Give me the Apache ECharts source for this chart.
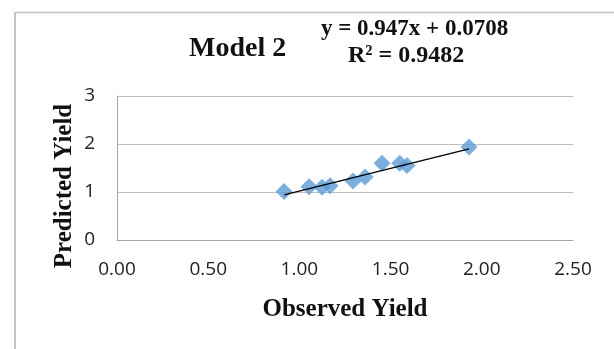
<!DOCTYPE html>
<html><head><meta charset="utf-8">
<script src="https://cdn.jsdelivr.net/npm/echarts@6/dist/echarts.min.js"></script>
<style>html,body{margin:0;padding:0;background:#fff}#c{width:614px;height:349px}</style>
</head><body><div id="c"></div>
<script>
const observed = [0.916, 1.053, 1.124, 1.168, 1.294, 1.36, 1.453, 1.55, 1.59, 1.93];
const predicted = [1.01, 1.11, 1.10, 1.13, 1.23, 1.31, 1.60, 1.60, 1.55, 1.94];
const slope = 0.947, intercept = 0.0708;
const xTicks = [0, 0.5, 1, 1.5, 2, 2.5];
const yTicks = [0, 1, 2, 3];

const pts = observed.map((x, i) => [x, predicted[i]]);
const xmin = Math.min(...observed), xmax = Math.max(...observed);
const trend = [[xmin, slope * xmin + intercept], [xmax, slope * xmax + intercept]];
const serif = '"Liberation Serif", "DejaVu Serif", serif';
const sans = '"Open Sans", "Noto Sans", sans-serif';

const chart = echarts.init(document.getElementById('c'));
chart.setOption({
  animation: false,
  grid: {left: 117, right: 41, top: 96, bottom: 109},
  xAxis: {type: 'value', min: 0, max: 2.5, interval: 0.5,
    name: 'Observed Yield', nameLocation: 'middle', nameGap: 57,
    nameTextStyle: {fontFamily: serif, fontWeight: 'bold', fontSize: 25, color: '#111'},
    axisLine: {show: true, lineStyle: {color: '#a6a6a6'}}, axisTick: {show: false},
    splitLine: {show: false},
    axisLabel: {formatter: v => v.toFixed(2), fontFamily: sans, fontSize: 19, color: '#222', margin: 20}},
  yAxis: {type: 'value', min: 0, max: 3, interval: 1,
    axisLine: {show: true, lineStyle: {color: '#a6a6a6'}}, axisTick: {show: false},
    splitLine: {show: true, lineStyle: {color: '#bfbfbf'}},
    axisLabel: {fontFamily: sans, fontSize: 19, color: '#222', margin: 22}},
  graphic: [
    {type: 'line', shape: {x1: 15, y1: 12, x2: 15, y2: 349}, style: {stroke: '#c4c4c4', lineWidth: 2}},
    {type: 'line', shape: {x1: 14, y1: 12.5, x2: 614, y2: 12.5}, style: {stroke: '#c4c4c4', lineWidth: 1.5}},
    {type: 'text', x: 65, y: 186, rotation: Math.PI / 2,
      style: {text: 'Predicted Yield', font: 'bold 25px ' + serif, fill: '#111', textAlign: 'center', textVerticalAlign: 'middle'}},
    {type: 'text', left: 189, top: 35, style: {text: 'Model 2', font: 'bold 28px ' + serif, fill: '#111'}},
    {type: 'text', left: 321, top: 18, style: {text: 'y = 0.947x + 0.0708', font: 'bold 23px ' + serif, fill: '#111'}},
    {type: 'text', left: 348, top: 44, style: {text: 'R² = 0.9482', font: 'bold 24px ' + serif, fill: '#111'}}
  ],
  series: [
    {type: 'line', data: trend, symbol: 'none', lineStyle: {color: '#000', width: 1.3}, z: 3},
    {type: 'scatter', data: pts, symbol: 'diamond', symbolSize: 17,
      itemStyle: {color: '#5b9bd5'}, z: 2}
  ]
});
</script></body></html>
